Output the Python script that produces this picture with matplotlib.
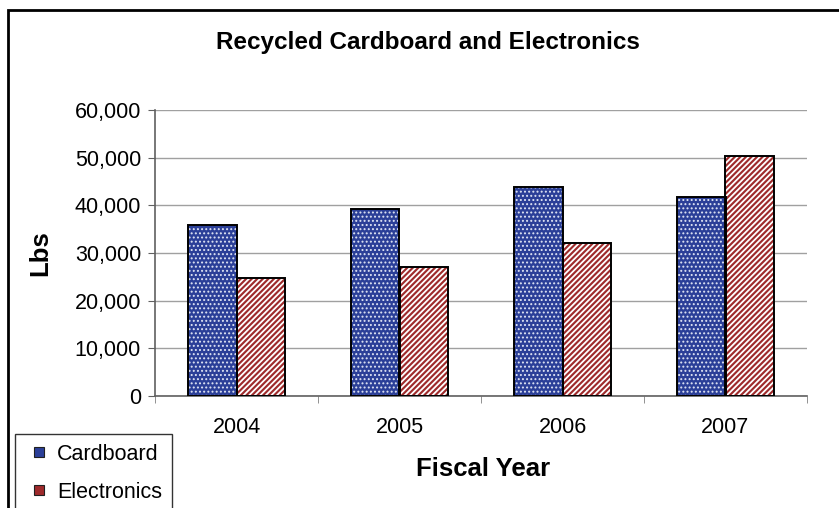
import numpy as np
import matplotlib
matplotlib.use("Agg")
import matplotlib.pyplot as plt
from matplotlib.patches import Rectangle
from matplotlib.lines import Line2D
from matplotlib.ticker import FuncFormatter

# --- data ---
years = ["2004", "2005", "2006", "2007"]
cardboard = [35800, 39200, 43800, 41700]
electronics = [24700, 27000, 32100, 50300]

plt.rcParams['font.family'] = ['Liberation Sans', 'DejaVu Sans']

BLUE = "#2b3f98"
RED = "#9e2a2b"

fig = plt.figure(figsize=(8.39, 5.08), dpi=100)
ax = fig.add_axes([155 / 839, 1 - 396 / 508, 652 / 839, 286 / 508])

x = np.arange(len(years))
w = 0.295

# fill + white pattern, then black outline on top
plt.rcParams['hatch.linewidth'] = 0.9
ax.bar(x - w / 2, cardboard, w, color=BLUE, edgecolor="#dfe4f4", hatch="....", lw=0, zorder=2)
plt.rcParams['hatch.linewidth'] = 1.3
ax.bar(x + w / 2, electronics, w, color=RED, edgecolor="white", hatch="//////", lw=0, zorder=2)
ax.bar(x - w / 2, cardboard, w, facecolor="none", edgecolor="black", lw=1.4, zorder=3)
ax.bar(x + w / 2, electronics, w, facecolor="none", edgecolor="black", lw=1.4, zorder=3)

ax.set_xlim(-0.5, len(years) - 0.5)
ax.set_ylim(0, 60000)
ax.set_yticks(np.arange(0, 60001, 10000))
ax.yaxis.set_major_formatter(FuncFormatter(lambda v, p: f"{int(v):,}"))
ax.set_xticks(x)
ax.set_xticklabels(years)
ax.set_xticks(np.arange(-0.5, len(years)), minor=True)
ax.tick_params(axis="x", which="major", length=0, pad=15, labelsize=15.5)
ax.tick_params(axis="x", which="minor", length=5, color="#808080", direction="out")
ax.tick_params(axis="y", length=5, color="#606060", pad=5, labelsize=15.5)

ax.grid(axis="y", color="#a0a0a0", lw=1, zorder=0)
ax.set_axisbelow(True)
for s in ["top", "right"]:
    ax.spines[s].set_visible(False)
ax.spines["left"].set_color("#606060")
ax.spines["bottom"].set_color("#606060")
ax.spines["left"].set_linewidth(1.2)
ax.spines["bottom"].set_linewidth(1.2)

fig.text(428 / 839, 1 - 42 / 508, "Recycled Cardboard and Electronics",
         ha="center", va="center", fontsize=17.5, fontweight="bold")
fig.text(40 / 839, 1 - 253 / 508, "Lbs", rotation=90,
         ha="center", va="center", fontsize=18.5, fontweight="bold")
fig.text(483 / 839, 1 - 469 / 508, "Fiscal Year",
         ha="center", va="center", fontsize=18.5, fontweight="bold")

# outer chart frame, cut off at right and bottom like the original
fig.patches.append(Rectangle((8 / 839, -0.2), 1.2, 1.2 - 10 / 508,
                             transform=fig.transFigure, fill=False,
                             edgecolor="black", lw=2))

# legend keys are small squares, like the Excel legend
handles = [Line2D([], [], ls="none", marker="s", markersize=6.5, color=BLUE,
                  markeredgecolor="#202020", markeredgewidth=0.8, label="Cardboard"),
           Line2D([], [], ls="none", marker="s", markersize=6.5, color=RED,
                  markeredgecolor="#202020", markeredgewidth=0.8, label="Electronics")]
leg = fig.legend(handles=handles, loc="upper left",
                 bbox_to_anchor=(15 / 839, 1 - 434 / 508),
                 frameon=True, fancybox=False, edgecolor="black",
                 fontsize=15.5, handlelength=1.3, handletextpad=0.2,
                 borderpad=0.45, labelspacing=0.8, borderaxespad=0)
leg.get_frame().set_linewidth(1)

fig.savefig("out.png", dpi=100)
